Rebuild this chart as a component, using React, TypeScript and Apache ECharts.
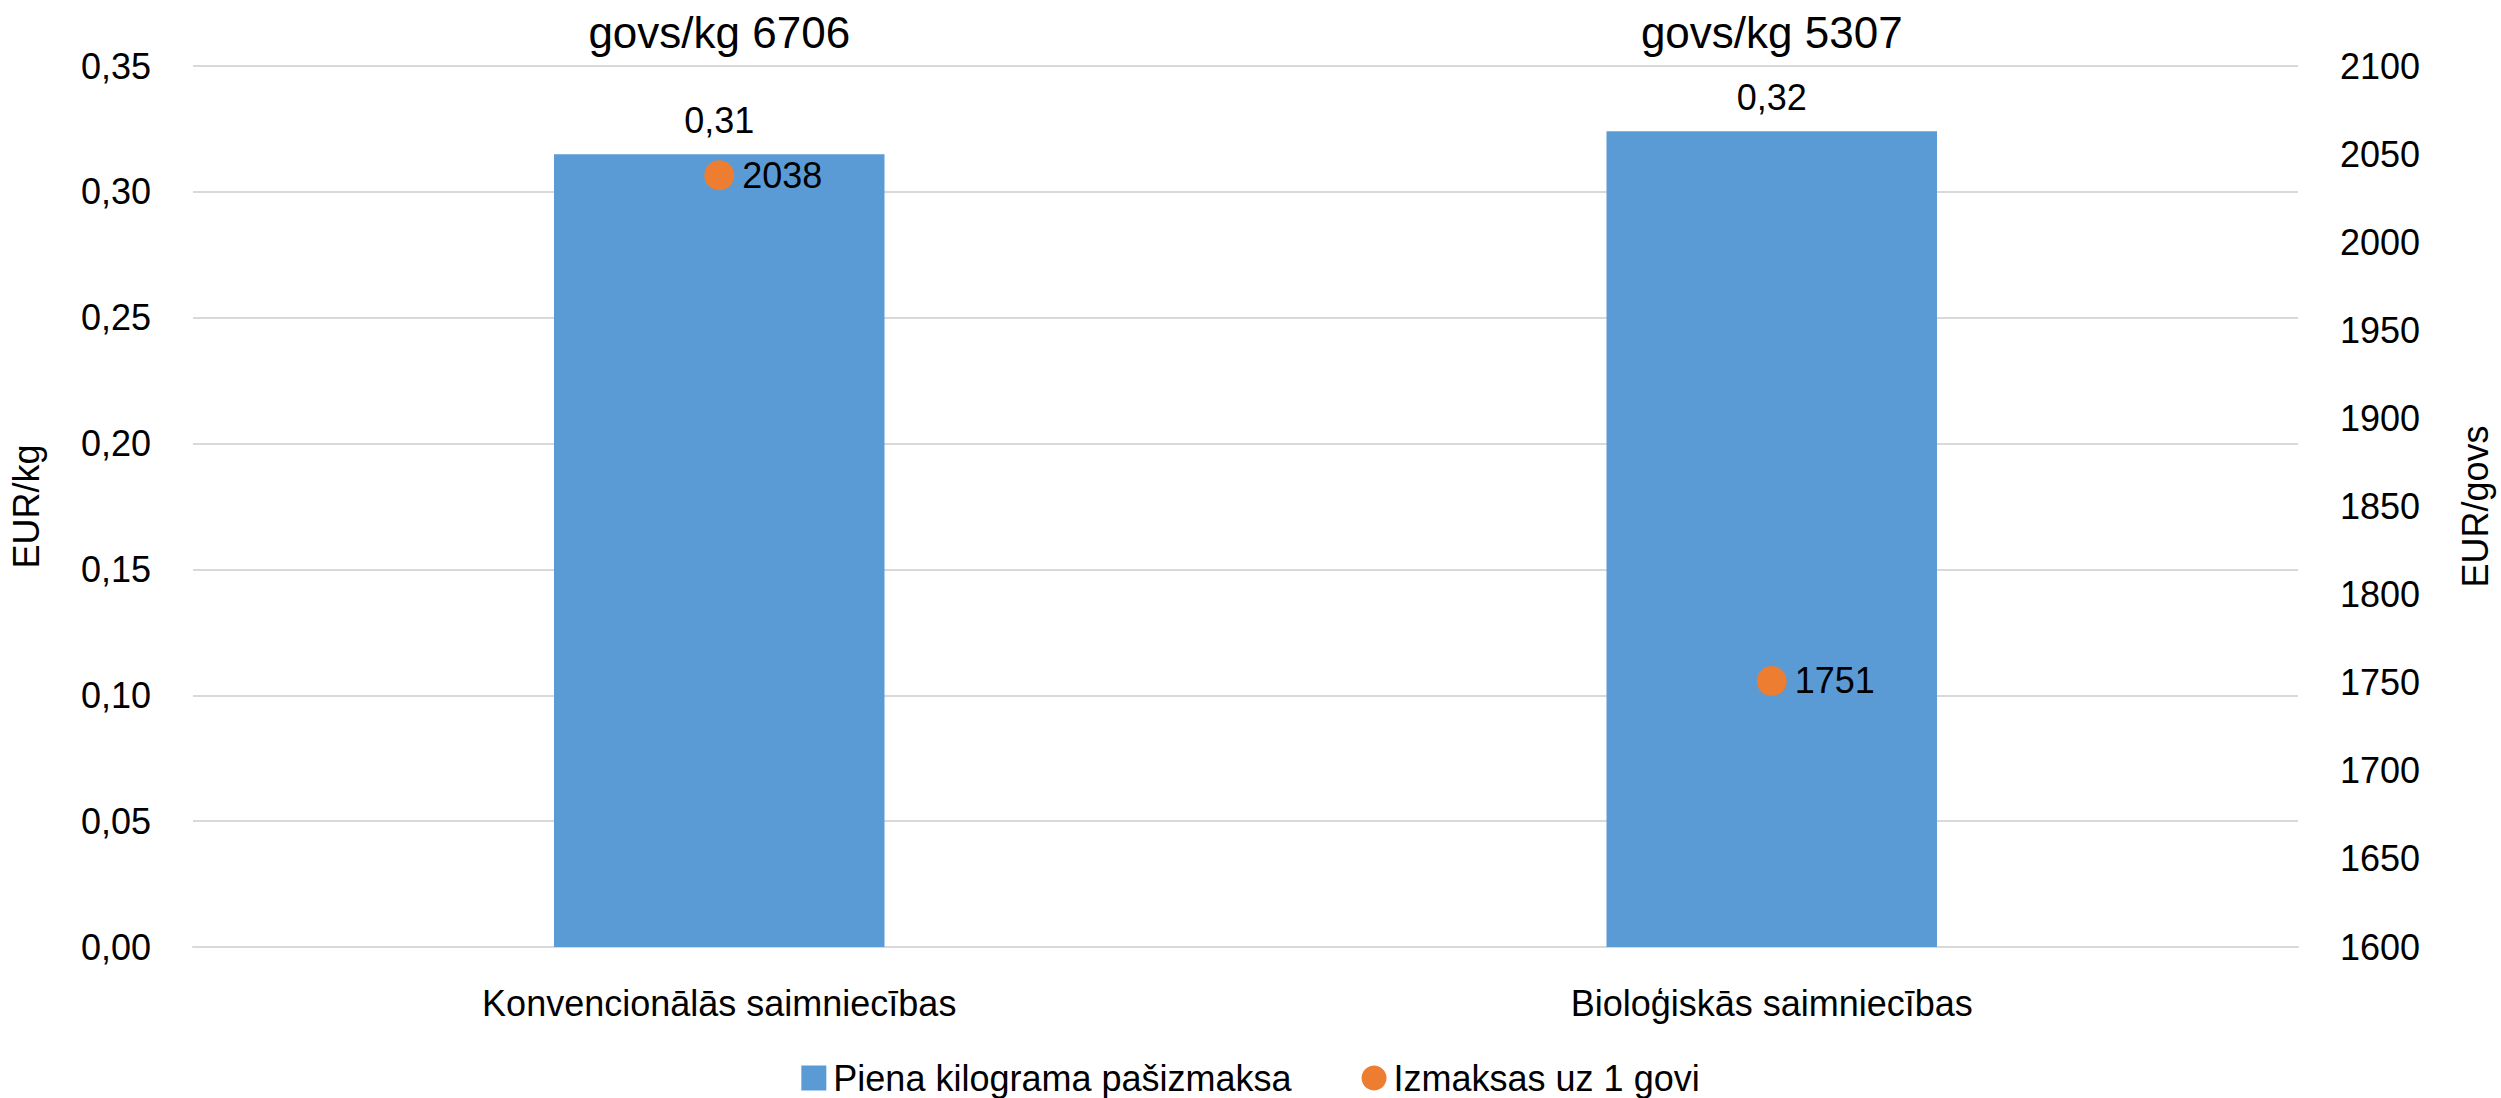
import React, { useEffect, useRef } from "react";
import * as echarts from "echarts";

const categories = ["Konvencionālās saimniecības", "Bioloģiskās saimniecības"];
const costPerKg = [0.3149, 0.3241];
const costPerCow = [2038, 1751];
const milkYield = [6706, 5307];
const seriesNames = ["Piena kilograma pašizmaksa", "Izmaksas uz 1 govi"];

const FONT = "'Liberation Sans', Arial, sans-serif";

export default function App() {
  const ref = useRef<HTMLDivElement>(null);
  useEffect(() => {
    if (!ref.current) return;
    document.body.style.margin = "0";
    const chart = echarts.init(ref.current, undefined, { renderer: "svg" });
    chart.setOption({
      animation: false,
      backgroundColor: "#ffffff",
      textStyle: { fontFamily: FONT, color: "#000" },
      grid: { left: 178, right: 191, top: 66, bottom: 151, containLabel: false },
      legend: {
        top: 1055,
        left: "center",
        itemGap: 70,
        itemWidth: 25,
        itemHeight: 25,
        textStyle: { fontFamily: FONT, fontSize: 36, color: "#000", padding: [0, 0, 0, 2] },
        data: [
          { name: seriesNames[0], icon: "rect", itemStyle: { color: "#5B9BD5" } },
          { name: seriesNames[1], icon: "circle", itemStyle: { color: "#ED7D31", opacity: 1 } },
        ],
      },
      xAxis: [
        {
          type: "category",
          data: categories,
          axisLine: { show: true, lineStyle: { color: "#D9D9D9", width: 2 } },
          axisTick: { show: false },
          axisLabel: { fontFamily: FONT, fontSize: 36, color: "#000", margin: 38 },
        },
        {
          type: "category",
          position: "top",
          data: categories,
          axisLine: { show: false },
          axisTick: { show: false },
          axisLabel: {
            fontFamily: FONT,
            fontSize: 44,
            color: "#000",
            margin: 12,
            formatter: (_v: string, i: number) => "govs/kg " + milkYield[i],
          },
        },
      ],
      yAxis: [
        {
          type: "value",
          min: 0,
          max: 0.35,
          interval: 0.05,
          name: "EUR/kg",
          nameLocation: "middle",
          nameRotate: 90,
          nameGap: 149,
          nameTextStyle: { fontFamily: FONT, fontSize: 36, color: "#000" },
          axisLine: { show: false },
          axisTick: { show: false },
          splitLine: { lineStyle: { color: "#D9D9D9", width: 2 } },
          axisLabel: {
            fontFamily: FONT,
            fontSize: 36,
            color: "#000",
            margin: 42,
            formatter: (v: number) => v.toFixed(2).replace(".", ","),
          },
        },
        {
          type: "value",
          min: 1600,
          max: 2100,
          interval: 50,
          position: "right",
          name: "EUR/govs",
          nameLocation: "middle",
          nameRotate: 90,
          nameGap: 159,
          nameTextStyle: { fontFamily: FONT, fontSize: 36, color: "#000" },
          axisLine: { show: false },
          axisTick: { show: false },
          splitLine: { show: false },
          axisLabel: {
            fontFamily: FONT,
            fontSize: 36,
            color: "#000",
            margin: 42,
            formatter: (v: number) => String(v),
          },
        },
      ],
      series: [
        {
          name: seriesNames[0],
          type: "bar",
          xAxisIndex: 0,
          yAxisIndex: 0,
          data: costPerKg,
          barWidth: "31.4%",
          itemStyle: { color: "#5B9BD5" },
          label: {
            show: true,
            position: "top",
            distance: 16,
            fontFamily: FONT,
            fontSize: 36,
            color: "#000",
            formatter: (p: any) => (Math.round(p.value * 100) / 100).toFixed(2).replace(".", ","),
          },
        },
        {
          name: seriesNames[1],
          type: "scatter",
          xAxisIndex: 0,
          yAxisIndex: 1,
          data: costPerCow,
          symbol: "circle",
          symbolSize: 30,
          itemStyle: { color: "#ED7D31", opacity: 1 },
          label: {
            show: true,
            position: "right",
            distance: 8,
            fontFamily: FONT,
            fontSize: 36,
            color: "#000",
          },
        },
      ],
    });
    return () => chart.dispose();
  }, []);
  return <div ref={ref} style={{ width: 2501, height: 1098 }} />;
}
